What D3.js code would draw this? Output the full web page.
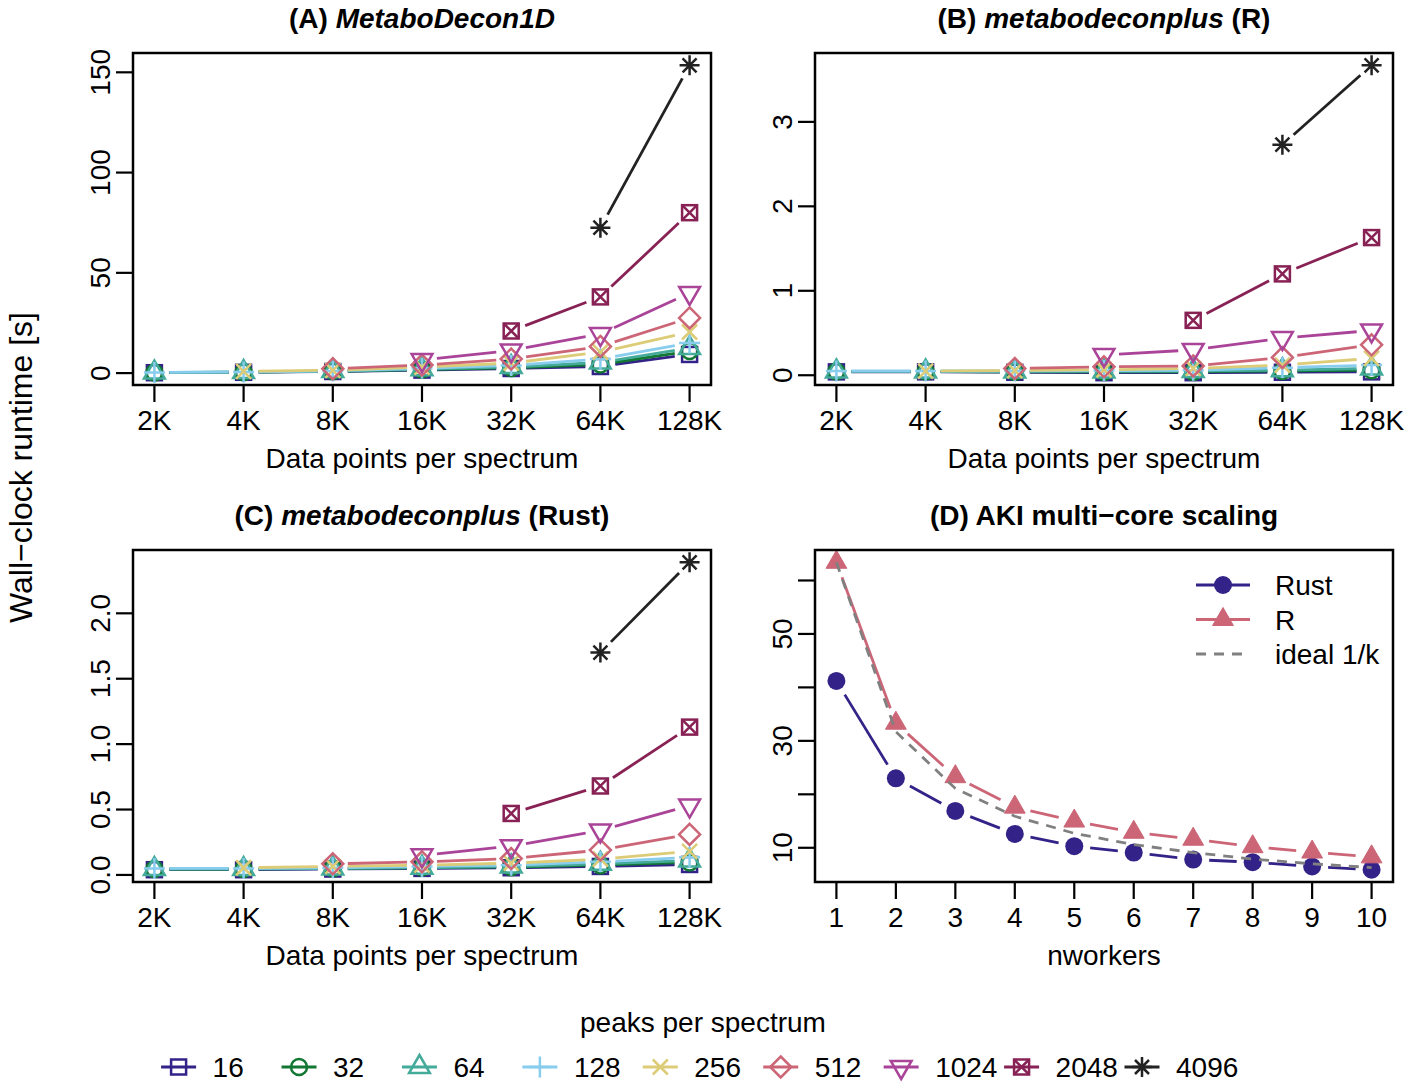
<!DOCTYPE html>
<html>
<head>
<meta charset="utf-8">
<script src="https://cdn.jsdelivr.net/npm/d3@7"></script>
<style>
  body { margin: 0; background: #fff; }
  svg { display: block; }
  text { font-family: "Liberation Sans", Arial, Helvetica, sans-serif; fill: #000; }
</style>
</head>
<body>
<svg id="chart"></svg>
<script>
// data
const sizeLabels = ["2K", "4K", "8K", "16K", "32K", "64K", "128K"];
const peakCounts = [16, 32, 64, 128, 256, 512, 1024, 2048, 4096];

// (A) MetaboDecon1D, seconds, one row per peak count
const runtimeA = [
  [0.2, 0.4, 0.8, 1.5, 2.3, 3.3, 9.3],
  [0.25, 0.45, 0.9, 1.7, 2.6, 4.3, 11],
  [0.3, 0.5, 1.0, 1.9, 3.0, 5.3, 12.5],
  [0.35, 0.6, 1.1, 2.4, 3.8, 7, 15],
  [null, 0.9, 1.4, 3.0, 5.0, 10.5, 20.5],
  [null, null, 2.2, 4.0, 7.0, 13.3, 27.5],
  [null, null, null, 6.5, 11.3, 19.5, 40],
  [null, null, null, null, 21, 38, 80],
  [null, null, null, null, null, 72.5, 153.5]
];

// (B) metabodeconplus (R)
const runtimeB = [
  [0.04, 0.04, 0.035, 0.03, 0.03, 0.035, 0.04],
  [0.045, 0.045, 0.04, 0.04, 0.04, 0.05, 0.06],
  [0.045, 0.045, 0.045, 0.045, 0.05, 0.06, 0.08],
  [0.05, 0.05, 0.05, 0.055, 0.06, 0.09, 0.12],
  [null, 0.05, 0.055, 0.065, 0.08, 0.12, 0.2],
  [null, null, 0.08, 0.1, 0.11, 0.21, 0.36],
  [null, null, null, 0.24, 0.3, 0.44, 0.53],
  [null, null, null, null, 0.65, 1.2, 1.63],
  [null, null, null, null, null, 2.73, 3.67]
];

// (C) metabodeconplus (Rust)
const runtimeC = [
  [0.04, 0.04, 0.045, 0.05, 0.055, 0.065, 0.08],
  [0.045, 0.045, 0.05, 0.055, 0.06, 0.075, 0.095],
  [0.045, 0.045, 0.05, 0.055, 0.065, 0.085, 0.11],
  [0.05, 0.05, 0.055, 0.065, 0.075, 0.1, 0.135],
  [null, 0.055, 0.065, 0.075, 0.09, 0.12, 0.18],
  [null, null, 0.085, 0.1, 0.125, 0.19, 0.31],
  [null, null, null, 0.15, 0.22, 0.34, 0.53],
  [null, null, null, null, 0.47, 0.68, 1.13],
  [null, null, null, null, null, 1.7, 2.39]
];

// (D) AKI multi-core scaling
const workers = [1, 2, 3, 4, 5, 6, 7, 8, 9, 10];
const rustTimes = [41.2, 23.0, 16.9, 12.6, 10.3, 9.1, 7.8, 7.3, 6.5, 5.9];
const rTimes = [63.4, 33.3, 23.3, 17.6, 15.0, 12.9, 11.6, 10.2, 9.2, 8.3];
const idealTimes = [63.4, 31.7, 21.1, 15.9, 12.7, 10.6, 9.1, 7.9, 7.0, 6.3];

const ticksA = [0, 50, 100, 150];
const ticksB = [0, 1, 2, 3];
const ticksC = [0, 0.5, 1, 1.5, 2];
const ticksD = [10, 20, 30, 40, 50, 60];
const labelledD = [10, 30, 50];

// styles
const seriesColors = ["#332288", "#117733", "#44AA99", "#88CCEE", "#DDCC77",
                      "#CC6677", "#AA4499", "#882255", "#222222"];
const seriesShapes = ["square", "circle", "triangle", "plus", "cross",
                      "diamond", "triangleDown", "boxX", "asterisk"];

const W = 1414, H = 1087;
const PW = 578, PH = 332;
const FONT = 28;
const LW = 2.8;

const svg = d3.select("#chart").attr("width", W).attr("height", H);

// R-style axis range: data extent padded by 4 % each side
function padExtent(values) {
  const [lo, hi] = d3.extent(values);
  const p = (hi - lo) * 0.04;
  return [lo - p, hi + p];
}

function drawSymbol(parent, shape, x, y, color, opts = {}) {
  const s = opts.scale || 1;
  const g = parent.append("g")
    .attr("transform", `translate(${x},${y}) scale(${s})`)
    .attr("stroke", color)
    .attr("stroke-width", (opts.lw || 2.5) / s)
    .attr("fill", opts.filled ? color : "none");
  switch (shape) {
    case "square":
      g.append("rect").attr("x", -7.5).attr("y", -7.5).attr("width", 15).attr("height", 15);
      break;
    case "circle":
      g.append("circle").attr("r", 8);
      break;
    case "triangle":
      g.append("path").attr("d", "M0,-12L10.4,6L-10.4,6Z");
      break;
    case "triangleDown":
      g.append("path").attr("d", "M0,12L10.4,-6L-10.4,-6Z");
      break;
    case "plus":
      g.append("path").attr("d", "M-10.5,0H10.5M0,-10.5V10.5");
      break;
    case "cross":
      g.append("path").attr("d", "M-7.5,-7.5L7.5,7.5M-7.5,7.5L7.5,-7.5");
      break;
    case "diamond":
      g.append("path").attr("d", "M0,-10.5L10.5,0L0,10.5L-10.5,0Z");
      break;
    case "boxX":
      g.append("rect").attr("x", -7.5).attr("y", -7.5).attr("width", 15).attr("height", 15);
      g.append("path").attr("d", "M-7.5,-7.5L7.5,7.5M-7.5,7.5L7.5,-7.5");
      break;
    case "asterisk":
      g.append("path").attr("d", "M-10,0H10M0,-10V10M-7,-7L7,7M-7,7L7,-7");
      break;
  }
}

// type = "b": line pieces that stop short of every point
function drawGappedLine(parent, pts, color, gap, lw) {
  for (let i = 0; i < pts.length - 1; i++) {
    const [x1, y1] = pts[i], [x2, y2] = pts[i + 1];
    const dx = x2 - x1, dy = y2 - y1, len = Math.hypot(dx, dy);
    if (len <= 2 * gap) continue;
    const ux = dx / len, uy = dy / len;
    parent.append("line")
      .attr("x1", x1 + ux * gap).attr("y1", y1 + uy * gap)
      .attr("x2", x2 - ux * gap).attr("y2", y2 - uy * gap)
      .attr("stroke", color).attr("stroke-width", lw)
      .attr("stroke-linecap", "butt");
  }
}

function drawFrame(g, x, y, tickVals, tickLabels, xTickVals, xTickLabels, xTitle) {
  g.append("rect").attr("x", 0).attr("y", 0).attr("width", PW).attr("height", PH)
    .attr("fill", "none").attr("stroke", "#000").attr("stroke-width", 2.5);

  tickVals.forEach((v) => {
    g.append("line").attr("x1", 0).attr("x2", -17).attr("y1", y(v)).attr("y2", y(v))
      .attr("stroke", "#000").attr("stroke-width", 2.2);
  });
  tickLabels.forEach(([v, lab]) => {
    g.append("text")
      .attr("transform", `translate(-23,${y(v)}) rotate(-90)`)
      .attr("text-anchor", "middle")
      .attr("font-size", FONT)
      .text(lab);
  });

  xTickVals.forEach((v, i) => {
    g.append("line").attr("x1", x(v)).attr("x2", x(v)).attr("y1", PH).attr("y2", PH + 17)
      .attr("stroke", "#000").attr("stroke-width", 2.2);
    g.append("text").attr("x", x(v)).attr("y", PH + 45)
      .attr("text-anchor", "middle").attr("font-size", FONT)
      .text(xTickLabels[i]);
  });

  g.append("text").attr("x", PW / 2).attr("y", PH + 83)
    .attr("text-anchor", "middle").attr("font-size", FONT)
    .text(xTitle);
}

function drawTitle(g, parts) {
  const t = g.append("text").attr("x", PW / 2).attr("y", -25)
    .attr("text-anchor", "middle").attr("font-size", FONT).attr("font-weight", "bold");
  parts.forEach(([str, italic]) => {
    t.append("tspan").attr("font-style", italic ? "italic" : "normal").text(str);
  });
}

function runtimePanel(left, top, runtime, yTicks, fmt, titleParts) {
  const g = svg.append("g").attr("transform", `translate(${left},${top})`);
  const idx = sizeLabels.map((d, i) => i + 1);
  const x = d3.scaleLinear().domain(padExtent(idx)).range([0, PW]);
  const allVals = runtime.flat().filter((v) => v !== null);
  const y = d3.scaleLinear().domain(padExtent(allVals)).range([PH, 0]);

  runtime.forEach((row, s) => {
    const pts = [];
    row.forEach((v, i) => { if (v !== null) pts.push([x(i + 1), y(v)]); });
    drawGappedLine(g, pts, seriesColors[s], 15, LW);
    pts.forEach(([px, py]) => drawSymbol(g, seriesShapes[s], px, py, seriesColors[s]));
  });

  drawFrame(g, x, y, yTicks, yTicks.map((v) => [v, fmt(v)]), idx, sizeLabels,
    "Data points per spectrum");
  drawTitle(g, titleParts);
}

runtimePanel(133, 53, runtimeA, ticksA, d3.format("d"),
  [["(A) ", false], ["MetaboDecon1D", true]]);
runtimePanel(815, 53, runtimeB, ticksB, d3.format("d"),
  [["(B) ", false], ["metabodeconplus", true], [" (R)", false]]);
runtimePanel(133, 550, runtimeC, ticksC, d3.format(".1f"),
  [["(C) ", false], ["metabodeconplus", true], [" (Rust)", false]]);

// panel D
(function () {
  const g = svg.append("g").attr("transform", "translate(815,550)");
  const x = d3.scaleLinear().domain(padExtent(workers)).range([0, PW]);
  const y = d3.scaleLinear()
    .domain(padExtent(rustTimes.concat(rTimes, idealTimes))).range([PH, 0]);

  const rustCol = "#332288", rCol = "#CC6677", idealCol = "#808080";

  const rustPts = workers.map((k, i) => [x(k), y(rustTimes[i])]);
  const rPts = workers.map((k, i) => [x(k), y(rTimes[i])]);

  drawGappedLine(g, rustPts, rustCol, 16, LW);
  rustPts.forEach(([px, py]) => g.append("circle").attr("cx", px).attr("cy", py)
    .attr("r", 9).attr("fill", rustCol));

  drawGappedLine(g, rPts, rCol, 16, LW);
  rPts.forEach(([px, py]) => drawSymbol(g, "triangle", px, py, rCol,
    { filled: true, scale: 1, lw: 1 }));

  g.append("path")
    .datum(workers.map((k, i) => [x(k), y(idealTimes[i])]))
    .attr("d", d3.line())
    .attr("fill", "none").attr("stroke", idealCol).attr("stroke-width", LW)
    .attr("stroke-dasharray", "10,8");

  drawFrame(g, x, y, ticksD, labelledD.map((v) => [v, String(v)]), workers,
    workers.map(String), "nworkers");
  drawTitle(g, [["(D) AKI multi\u2212core scaling", false]]);

  // legend
  const lg = g.append("g").attr("transform", "translate(381,35)");
  const items = [
    { label: "Rust", color: rustCol, mark: "circle" },
    { label: "R", color: rCol, mark: "triangle" },
    { label: "ideal 1/k", color: idealCol, mark: null }
  ];
  items.forEach((it, i) => {
    const yy = i * 34.5;
    const line = lg.append("line").attr("x1", 0).attr("x2", 54).attr("y1", yy).attr("y2", yy)
      .attr("stroke", it.color).attr("stroke-width", LW);
    if (it.mark === null) line.attr("stroke-dasharray", "10,8");
    if (it.mark === "circle") {
      lg.append("circle").attr("cx", 27).attr("cy", yy).attr("r", 9).attr("fill", it.color);
    } else if (it.mark === "triangle") {
      drawSymbol(lg, "triangle", 27, yy, it.color, { filled: true, scale: 1, lw: 1 });
    }
    lg.append("text").attr("x", 79).attr("y", yy + 10).attr("font-size", FONT).text(it.label);
  });
})();

// shared y title
svg.append("text")
  .attr("transform", `translate(32,${53 + (550 + PH - 53) / 2}) rotate(-90)`)
  .attr("text-anchor", "middle").attr("font-size", 32)
  .text("Wall\u2212clock runtime [s]");

// bottom legend
svg.append("text").attr("x", 703).attr("y", 1032)
  .attr("text-anchor", "middle").attr("font-size", FONT)
  .text("peaks per spectrum");

const legX = d3.scalePoint().domain(peakCounts).range([178.6, 1142]);
const leg = svg.append("g");
peakCounts.forEach((p, s) => {
  const cx = legX(p), cy = 1067;
  leg.append("line").attr("x1", cx - 17.5).attr("x2", cx + 17.5).attr("y1", cy).attr("y2", cy)
    .attr("stroke", seriesColors[s]).attr("stroke-width", LW);
  drawSymbol(leg, seriesShapes[s], cx, cy, seriesColors[s]);
  leg.append("text").attr("x", cx + 34).attr("y", cy + 10).attr("font-size", FONT).text(p);
});
</script>
</body>
</html>
